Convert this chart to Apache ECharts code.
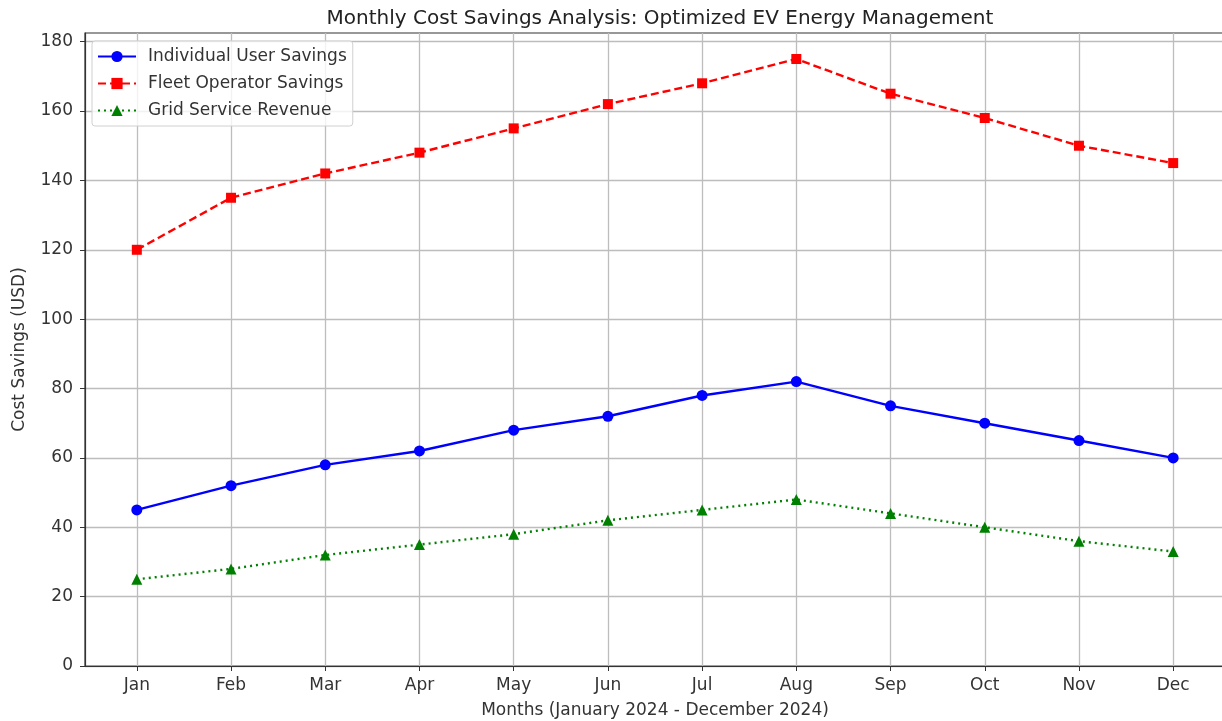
<!DOCTYPE html>
<html>
<head>
<meta charset="utf-8">
<script src="https://cdn.jsdelivr.net/npm/echarts@6/dist/echarts.min.js"></script>
<style>
  html, body { margin: 0; padding: 0; background: #fff; }
  #main { width: 1222px; height: 721px; }
</style>
</head>
<body>
<div id="main"></div>
<script>
var months = ['Jan', 'Feb', 'Mar', 'Apr', 'May', 'Jun', 'Jul', 'Aug', 'Sep', 'Oct', 'Nov', 'Dec'];
var userSavings = [45, 52, 58, 62, 68, 72, 78, 82, 75, 70, 65, 60];
var fleetSavings = [120, 135, 142, 148, 155, 162, 168, 175, 165, 158, 150, 145];
var gridRevenue = [25, 28, 32, 35, 38, 42, 45, 48, 44, 40, 36, 33];
var yTicks = [0, 20, 40, 60, 80, 100, 120, 140, 160, 180];

function pairs(arr) {
    return arr.map(function (v, i) { return [i, v]; });
}
var monthIdx = months.map(function (m, i) { return i; });

var font = 'DejaVu Sans';
var myChart = echarts.init(document.getElementById('main'));
var option = {
    animation: false,
    textStyle: { fontFamily: font },
    title: {
        text: 'Monthly Cost Savings Analysis: Optimized EV Energy Management',
        left: 655,
        textAlign: 'center',
        top: 4,
        textStyle: { fontFamily: font, fontSize: 20, fontWeight: 'normal', color: '#222' }
    },
    legend: {
        orient: 'vertical',
        left: 92,
        top: 41,
        itemWidth: 38,
        itemHeight: 14,
        itemGap: 10,
        padding: [7, 6, 7, 5],
        borderColor: '#d0d0d0',
        borderWidth: 1,
        borderRadius: 3,
        backgroundColor: 'rgba(255,255,255,0.8)',
        textStyle: { fontFamily: font, fontSize: 17, color: '#333', padding: [0, 0, 0, 7] },
        data: ['Individual User Savings', 'Fleet Operator Savings', 'Grid Service Revenue']
    },
    grid: {
        left: 85, width: 1140, top: 33, bottom: 55,
        outerBoundsMode: 'none', containLabel: false,
        show: true, borderColor: '#333', borderWidth: 1.2
    },
    xAxis: {
        type: 'value',
        min: -0.55,
        max: 11.55,
        name: 'Months (January 2024 - December 2024)',
        nameLocation: 'middle',
        nameGap: 36,
        nameTextStyle: { fontFamily: font, fontSize: 17, color: '#333' },
        axisLine: { onZero: false, lineStyle: { color: '#333', width: 1.2 } },
        axisTick: { show: true, length: 5, customValues: monthIdx, lineStyle: { color: '#333' } },
        axisLabel: {
            customValues: monthIdx,
            margin: 11,
            fontSize: 17,
            color: '#333',
            formatter: function (v) { return months[Math.round(v)]; }
        },
        splitLine: { show: true, lineStyle: { color: '#bdbdbd', width: 1.3 } }
    },
    yAxis: {
        type: 'value',
        min: 0,
        max: 182.5,
        name: 'Cost Savings (USD)',
        nameLocation: 'middle',
        nameGap: 57,
        nameTextStyle: { fontFamily: font, fontSize: 17, color: '#333' },
        axisLine: { show: true, onZero: false, lineStyle: { color: '#333', width: 1.2 } },
        axisTick: { show: true, length: 5, customValues: yTicks, lineStyle: { color: '#333' } },
        axisLabel: { customValues: yTicks, margin: 12, fontSize: 17, color: '#333' },
        splitLine: { show: true, lineStyle: { color: '#bdbdbd', width: 1.3 } }
    },
    series: [
        {
            name: 'Individual User Savings',
            type: 'line',
            data: pairs(userSavings),
            color: '#0000ff',
            symbol: 'circle',
            symbolSize: 11,
            lineStyle: { width: 2.4, type: 'solid' },
            z: 3
        },
        {
            name: 'Fleet Operator Savings',
            type: 'line',
            data: pairs(fleetSavings),
            color: '#ff0000',
            symbol: 'rect',
            symbolSize: 10,
            lineStyle: { width: 2.4, type: [8, 4] },
            z: 3
        },
        {
            name: 'Grid Service Revenue',
            type: 'line',
            data: pairs(gridRevenue),
            color: '#008000',
            symbol: 'triangle',
            symbolSize: 11,
            lineStyle: { width: 2.4, type: [2, 4] },
            z: 3
        }
    ]
};
myChart.setOption(option);
</script>
</body>
</html>
